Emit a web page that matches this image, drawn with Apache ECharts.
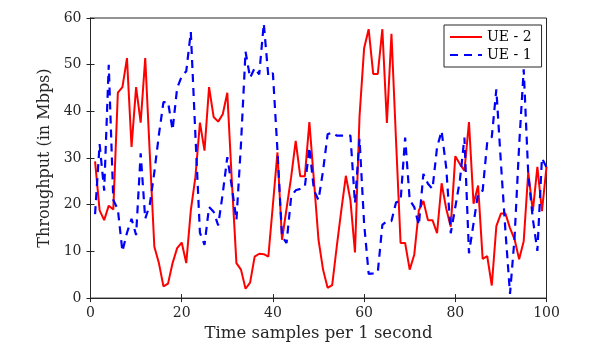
<!DOCTYPE html>
<html>
<head>
<meta charset="utf-8">
<script src="https://cdn.jsdelivr.net/npm/echarts@6/dist/echarts.min.js"></script>
<style>
  html, body { margin: 0; padding: 0; background: #fff; }
  #chart { width: 589px; height: 347px; }
</style>
</head>
<body>
<div id="chart"></div>
<script>
// time samples 1..100
var samples = []
for (var i = 1; i <= 100; i++) samples.push(i)

// UE - 2 (red, solid)
var ue2 = [
  29.3, 18.8, 16.7, 19.8, 19, 44, 45.2, 51.4, 32.4, 45.2,
  37.6, 51.4, 31, 11, 7.5, 2.5, 3.1, 7.5, 10.7, 11.9,
  7.5, 18.8, 25.9, 37.6, 31.6, 45.2, 38.8, 37.8, 39.4, 44,
  25, 7.5, 6.1, 2, 3.3, 8.9, 9.5, 9.4, 8.9, 20,
  31.2, 12.5, 19.2, 25.9, 33.7, 26.1, 26.1, 37.7, 25.2, 12.5,
  6.1, 2.2, 2.8, 11, 18.8, 26.2, 21, 9.8, 39, 53.5,
  57.6, 48, 48, 57.6, 37.5, 56.6, 33.8, 11.8, 11.8, 6.1,
  9.3, 18.8, 20.8, 16.7, 16.7, 13.9, 24.6, 19.2, 15.3, 30.4,
  28.7, 27.3, 37.7, 20.2, 24.1, 8.4, 9, 2.7, 15.4, 18.1,
  18.1, 15, 12.6, 8.3, 12.2, 27, 18.6, 28.1, 18.6, 28.1
]

// UE - 1 (blue, dashed)
var ue1 = [
  18, 33, 23, 50, 21, 19, 10, 14, 17, 13.5,
  31, 17, 20, 27, 35, 42, 42, 36, 45, 47.5,
  48.6, 57, 35, 14, 11.4, 19.5, 18.5, 15.6, 22.4, 30.2,
  23.8, 16.7, 33, 52.8, 47.2, 49.3, 47.9, 58.8, 47.5, 48.2,
  31.6, 13.2, 11.8, 21.7, 23.1, 23.4, 23.8, 32.3, 23.1, 21,
  27.3, 35.1, 35.5, 34.8, 34.8, 34.8, 34.8, 20.3, 34.1, 16,
  5.2, 5.3, 5.5, 15.7, 16.5, 16.5, 20.5, 20.8, 34.4, 21,
  19.5, 15.6, 26.6, 24.5, 23.4, 32.3, 35.8, 28, 13.9, 19.5,
  25.2, 34.4, 9.6, 16, 22.5, 23, 33.4, 34.5, 44.7, 29,
  14.3, 0.9, 13, 32.7, 49, 26.5, 17, 10.1, 30, 28
]

var xTicks = [0, 20, 40, 60, 80, 100]
var yTicks = [0, 10, 20, 30, 40, 50, 60]

function pairs(vals) {
  return samples.map(function (x, i) { return [x, vals[i]] })
}

var font = 'DejaVu Serif'
var axisColor = '#262626'

var chart = echarts.init(document.getElementById('chart'))
chart.setOption({
  backgroundColor: '#fff',
  animation: false,
  grid: {
    left: 90.5,
    right: 42.5,
    top: 18,
    bottom: 46,
    show: true,
    borderColor: axisColor,
    borderWidth: 1
  },
  legend: {
    data: ['UE - 2', 'UE - 1'],
    orient: 'vertical',
    left: 444,
    top: 25,
    itemWidth: 32,
    itemHeight: 12,
    itemGap: 4,
    padding: [5, 10, 5, 5],
    borderColor: axisColor,
    borderWidth: 1,
    borderRadius: 0,
    backgroundColor: '#fff',
    itemStyle: { opacity: 0 },
    textStyle: { fontFamily: font, fontSize: 14, color: '#000' }
  },
  xAxis: [
    {
      type: 'value',
      min: xTicks[0],
      max: xTicks[xTicks.length - 1],
      interval: 20,
      name: 'Time samples per 1 second',
      nameLocation: 'middle',
      nameGap: 25,
      nameTextStyle: { fontFamily: font, fontSize: 16.5, color: '#262626' },
      axisLine: { lineStyle: { color: axisColor } },
      axisTick: { inside: true, length: 4, lineStyle: { color: axisColor } },
      axisLabel: { fontFamily: font, fontSize: 14, color: '#262626', margin: 8 },
      splitLine: { show: false }
    },
    {
      type: 'value',
      position: 'top',
      min: xTicks[0],
      max: xTicks[xTicks.length - 1],
      interval: 20,
      axisLine: { lineStyle: { color: axisColor } },
      axisTick: { inside: true, length: 4, lineStyle: { color: axisColor } },
      axisLabel: { show: false },
      splitLine: { show: false }
    }
  ],
  yAxis: [
    {
      type: 'value',
      min: yTicks[0],
      max: yTicks[yTicks.length - 1],
      interval: 10,
      name: 'Throughput (in Mbps)',
      nameLocation: 'middle',
      nameGap: 38,
      nameTextStyle: { fontFamily: font, fontSize: 16, color: '#262626' },
      axisLine: { show: true, lineStyle: { color: axisColor } },
      axisTick: { show: true, inside: true, length: 4, lineStyle: { color: axisColor } },
      axisLabel: { fontFamily: font, fontSize: 14, color: '#262626', margin: 9 },
      splitLine: { show: false }
    },
    {
      type: 'value',
      position: 'right',
      min: yTicks[0],
      max: yTicks[yTicks.length - 1],
      interval: 10,
      axisLine: { show: true, lineStyle: { color: axisColor } },
      axisTick: { show: true, inside: true, length: 4, lineStyle: { color: axisColor } },
      axisLabel: { show: false },
      splitLine: { show: false }
    }
  ],
  series: [
    {
      name: 'UE - 2',
      type: 'line',
      data: pairs(ue2),
      showSymbol: false,
      symbol: 'none',
      color: '#ff0000',
      lineStyle: { color: '#ff0000', width: 2 }
    },
    {
      name: 'UE - 1',
      type: 'line',
      data: pairs(ue1),
      showSymbol: false,
      symbol: 'none',
      color: '#0000ff',
      lineStyle: { color: '#0000ff', width: 2.2, type: [8, 6] }
    }
  ]
})
</script>
</body>
</html>
